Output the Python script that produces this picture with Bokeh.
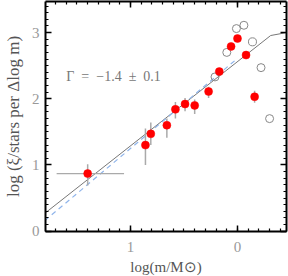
from bokeh.plotting import figure
from bokeh.models import LinearAxis, FixedTicker, Range1d, Label
from bokeh.embed import file_html
from bokeh.resources import INLINE
import numpy as np

# filled (red) points with vertical error ranges
red_x = [-1.40, -0.86, -0.81, -0.66, -0.58, -0.49, -0.40, -0.27, -0.17, -0.06, 0.00, 0.08, 0.16]
red_y = [0.87, 1.30, 1.47, 1.60, 1.84, 1.92, 1.90, 2.11, 2.41, 2.79, 2.91, 2.66, 2.03]
red_ylo = [0.69, 1.00, 1.30, 1.41, 1.70, 1.81, 1.77, 2.01, 2.36, 2.74, 2.86, 2.61, 1.94]
red_yhi = [1.01, 1.55, 1.64, 1.70, 1.95, 2.01, 1.99, 2.18, 2.46, 2.84, 2.96, 2.71, 2.12]
# horizontal error of first point
xerr_lo = [-1.69]
xerr_hi = [-1.06]

# open circles
open_x = [-0.21, -0.10, -0.01, 0.06, 0.14, 0.22, 0.30]
open_y = [2.33, 2.70, 3.06, 3.11, 2.86, 2.47, 1.70]

# model (solid) and fit (dashed)
line_x = [-1.80, 0.31, 0.46]
line_y = [0.27, 2.955, 3.00]
dash_x = [-1.80, 0.00]
dash_y = [0.16, 2.61]

x_ticks = [-1, 0]
x_tick_labels = {-1: "1", 0: "0"}
y_ticks = [0, 1, 2, 3]

FONT = "Liberation Serif"

p = figure(frame_width=241, frame_height=230,
           x_range=Range1d(-1.794, 0.458), y_range=Range1d(-0.005, 3.469),
           output_backend="svg", toolbar_location=None,
           min_border_left=41, min_border_right=6, min_border_top=1, min_border_bottom=45,
           x_axis_label="log(m/M⊙)", y_axis_label="log (ξ/stars per Δlog m)")
p.grid.visible = False
p.outline_line_color = None
p.background_fill_color = "white"
p.border_fill_color = "white"

xt = FixedTicker(ticks=x_ticks, minor_ticks=[round(v, 2) for v in np.arange(-1.7, 0.46, 0.1)])
yt = FixedTicker(ticks=y_ticks, minor_ticks=[round(v, 2) for v in np.arange(0.0, 3.5, 0.1)])


def style(ax, labels=True):
    ax.axis_line_color = "black"
    ax.axis_line_width = 2
    ax.major_tick_line_color = "black"
    ax.major_tick_line_width = 1.5
    ax.major_tick_in = 6
    ax.major_tick_out = 0
    ax.minor_tick_line_color = "black"
    ax.minor_tick_line_width = 1.2
    ax.minor_tick_in = 3
    ax.minor_tick_out = 0
    if labels:
        ax.major_label_text_font = FONT
        ax.major_label_text_font_size = "15px"
        ax.major_label_text_color = "#999999"
        ax.axis_label_text_font = FONT
        ax.axis_label_text_font_style = "normal"
        ax.axis_label_text_color = "#555555"
    else:
        ax.major_label_text_font_size = "1px"
        ax.major_label_text_color = None
        ax.major_label_standoff = 0
        ax.axis_label = None


xa = p.xaxis[0]
xa.ticker = xt
xa.major_label_overrides = x_tick_labels
style(xa)
xa.major_label_standoff = 10
xa.axis_label_standoff = 4
xa.axis_label_text_font_size = "15px"

ya = p.yaxis[0]
ya.ticker = yt
style(ya)
ya.major_label_standoff = 6
ya.axis_label_standoff = 6
ya.axis_label_text_font_size = "17px"

top = LinearAxis(ticker=xt)
style(top, labels=False)
p.add_layout(top, "above")
right = LinearAxis(ticker=yt)
style(right, labels=False)
p.add_layout(right, "right")

# lines
p.line(line_x, line_y, line_color="#777777", line_width=1)
p.line(dash_x, dash_y, line_color="#8fb4ea", line_width=1.2, line_dash="5 4")

# error bars
p.segment(x0=red_x, y0=red_ylo, x1=red_x, y1=red_yhi, line_color="#aaaaaa", line_width=1.5)
p.segment(x0=xerr_lo, y0=red_y[:1], x1=xerr_hi, y1=red_y[:1], line_color="#aaaaaa", line_width=1.2)

# points
p.scatter(open_x, open_y, size=8, fill_color=None, line_color="#888888", line_width=1)
p.scatter(red_x, red_y, size=8, fill_color="#ff0000", line_color="#ff0000", line_width=0.5)

p.add_layout(Label(x=-1.60, y=2.34, text="Γ\u2002=\u2002−1.4\u2002±\u20020.1",
                   text_font=FONT, text_font_size="14px", text_color="#777777",
                   text_baseline="middle", text_align="left"))

open("out.html", "w").write(file_html(p, INLINE))
